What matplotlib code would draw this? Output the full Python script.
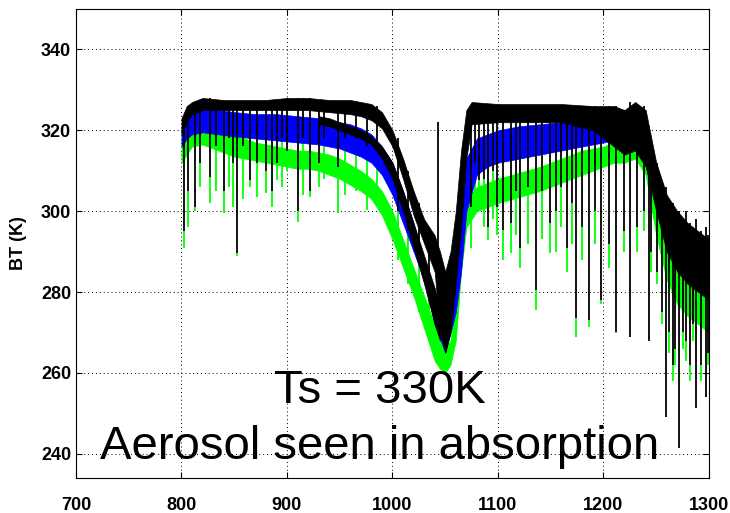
import numpy as np
import matplotlib
matplotlib.use('Agg')
import matplotlib.pyplot as plt

plt.rcParams['font.family'] = ['Liberation Sans', 'DejaVu Sans']

# band envelopes (wavenumber, top BT, bottom BT)
bk_wn = [800, 805, 810, 820, 840, 860, 880, 900, 920, 940, 960, 970, 980, 990, 1000,
         1010, 1020, 1030, 1040, 1045, 1050, 1055, 1060, 1065, 1070, 1075, 1100, 1130, 1160, 1190,
         1200, 1210, 1220, 1230, 1240, 1250, 1260, 1270, 1280, 1290, 1300]
bk_top = [323, 326, 327, 328, 327.5, 327.5, 327.5, 328, 328, 327.5, 327.5, 327, 326.5, 324.5, 320,
          313, 305, 298, 294, 290, 285, 290, 300, 315, 325, 327, 326.5, 326.5, 326.5, 326,
          326, 326, 325, 327, 325, 312, 304, 300, 297, 295, 293]
bk_bot = [319, 322, 324, 325, 325, 325, 325, 325, 325, 324.5, 324, 323.5, 322.5, 320.5, 316,
          308, 299, 292, 285, 270, 265, 270, 282, 296, 313, 321.5, 322, 322, 322, 320,
          318, 316, 314, 315, 311, 300, 290, 285, 282, 280, 278]

bk2_wn = [930, 940, 950, 960, 970, 980, 990, 1000, 1010, 1020, 1030, 1040, 1045]
bk2_top = [323.5, 323, 322, 321, 320, 318.5, 316, 312, 305, 297, 289, 281, 276]
bk2_bot = [321.5, 321, 320, 319, 318, 316.5, 313, 308, 300, 291, 282, 272, 268]

bl_wn = [800, 805, 810, 820, 850, 870, 890, 910, 930, 950, 960, 970, 980, 990, 1000,
         1010, 1020, 1030, 1040, 1050, 1060, 1065, 1070, 1080, 1090, 1100, 1120, 1140, 1160, 1180,
         1200, 1220, 1240]
bl_top = [321, 323, 325, 325.5, 324.5, 324, 324, 323.5, 323, 322, 321.5, 320.5, 319, 316, 312,
          305, 297, 288, 280, 273, 285, 300, 313, 318, 319, 320, 321, 321.5, 322, 322.5,
          323, 323, 322]
bl_bot = [316, 318, 319, 319.5, 318.5, 318, 317.5, 317, 316.5, 315.5, 314.5, 313.5, 312, 309, 304,
          297, 290, 283, 272, 265, 275, 285, 300, 309, 311, 312, 313, 314, 315, 316,
          317, 318, 317]

gr_wn = [800, 805, 810, 820, 830, 840, 850, 860, 870, 880, 890, 900, 910, 920, 930,
         940, 950, 960, 970, 980, 990, 1000, 1010, 1020, 1030, 1040, 1045, 1050, 1055, 1060,
         1065, 1070, 1080, 1090, 1100, 1120, 1140, 1160, 1180, 1200, 1210, 1220, 1230, 1240, 1250,
         1260, 1270, 1280, 1290, 1300]
gr_top = [318, 320, 321.5, 321.5, 320.5, 319.5, 318.5, 318, 317, 316.5, 316, 315.5, 315, 315, 314.5,
          314, 313, 311.5, 310, 308, 305, 300, 293, 286, 279, 272, 268, 266, 268, 280,
          295, 303, 306, 307, 308, 309.5, 311, 313, 315, 316, 317, 317, 317, 314, 302,
          291, 285, 282, 280, 278]
gr_bot = [312, 314, 316, 316.5, 315.5, 314.5, 313.5, 313, 312.5, 312, 311.5, 311, 310.5, 310.5, 310,
          309, 308, 306.5, 305, 303, 299, 293, 286, 279, 271, 263, 261, 260, 262, 268,
          285, 296, 300, 301, 302, 303.5, 305, 307, 309, 311, 312, 312, 313, 309, 294,
          283, 277, 274, 272, 270]

# absorption lines: position, top of the line, lowest black, lowest green
dips_wn = [802.5, 806, 813, 818, 827, 833, 840, 845, 849, 853, 858, 865, 872, 880, 886,
           891, 895, 900, 910, 915, 922, 930, 935, 948, 955, 965, 976, 985, 1005, 1015,
           1025, 1035, 1074, 1078, 1082, 1087, 1091, 1095, 1099.5, 1105, 1112, 1117, 1121, 1128, 1136,
           1142, 1149, 1155, 1160, 1165, 1170, 1174, 1180, 1186, 1192, 1197.5, 1205, 1212, 1219, 1225,
           1232, 1238, 1243, 1245, 1251, 1255, 1259, 1262, 1266, 1268, 1271.5, 1275, 1278, 1282, 1285,
           1288, 1292, 1297, 1299]
dips_top = [322, 326, 327, 327, 328, 327, 327, 327, 327, 327, 327, 327, 327, 327, 327,
            327, 327, 328, 328, 328, 328, 327, 327, 327, 327, 327, 326, 326, 318, 310,
            302, 296, 326, 326, 326, 326, 326, 326, 326, 326, 326, 326, 326, 326, 326,
            326, 326, 326, 326, 326, 326, 326, 326, 326, 326, 325, 326, 326, 325, 327,
            326, 326, 318, 314, 312, 306, 306, 302, 302, 300, 300, 298, 300, 297, 296,
            298, 295, 296, 294]
dips_black = [295, 305, 301, 312, 308.5, 316, 305, 318, 312, 289.6, 316, 307.7, 312, 310, 305,
              312, 318, 315, 300, 318, 305, 312, 318, 311, 318, 318, 316, 316, 300, 295,
              288, 282, 301, 312, 307.7, 308, 296, 310, 301, 295.3, 297, 305, 291, 306, 280.4,
              305, 297, 300, 306, 291, 302, 273.7, 296, 273, 300, 278, 292, 270, 295, 269,
              296, 300, 268, 290, 285, 275, 249, 270, 262, 266, 241.5, 270, 268, 262, 272,
              251.4, 262, 254, 265]
dips_green = [291, 296, 300, 306, 302, 305, 299.6, 306, 301, 289, 303, 306, 303.5, 304.5, 301,
              307.7, 306, 310, 297.3, 304, 303.5, 306, 308, 299.6, 304, 305, 300.3, 302, 288, 282,
              275, 268, 291, 300, 300, 296, 292.9, 298, 294, 287.9, 289.6, 294, 286, 292, 275.5,
              293, 289.6, 290, 296, 285, 292, 268.8, 288, 271.3, 292, 277, 286, 269.8, 290, 268.8,
              290, 295, 268, 285, 282, 272, 249, 265, 258, 262, 241.5, 266, 263, 258, 268,
              251.4, 258, 254, 262]

spike_wn = [1043]
spike_top = [322]
spike_bot = [290]

fig = plt.figure(figsize=(7.3, 5.13), dpi=100)
ax = fig.add_axes([0.1041, 0.0682, 0.8671, 0.9142])

ax.fill_between(gr_wn, gr_bot, gr_top, color='#00ff00', lw=0.5, zorder=2)
ax.vlines(dips_wn, dips_green, dips_black, color='#00ff00', lw=1.3, zorder=2)
ax.fill_between(bl_wn, bl_bot, bl_top, color='#0000ff', lw=0.5, zorder=3)
ax.fill_between(bk_wn, bk_bot, bk_top, color='k', lw=0.5, zorder=4)
ax.fill_between(bk2_wn, bk2_bot, bk2_top, color='k', lw=0.5, zorder=4)
ax.vlines(dips_wn, dips_black, dips_top, color='k', lw=1.3, zorder=4)
ax.vlines(spike_wn, spike_bot, spike_top, color='k', lw=1.3, zorder=4)

ax.set_xlim(700, 1300)
ax.set_ylim(234, 350)
ax.set_xticks(np.arange(700, 1301, 100))
ax.set_yticks(np.arange(240, 341, 20))
ax.grid(True, color='k', lw=0.7, linestyle=(0, (1, 3)))
ax.set_axisbelow(True)
ax.tick_params(direction='in', length=4, top=True, right=True, labelsize=13)
ax.tick_params(axis='x', pad=14)
for lab in ax.get_xticklabels() + ax.get_yticklabels():
    lab.set_fontweight('bold')
ax.set_ylabel('BT (K)', fontsize=13, fontweight='bold', labelpad=10)

ax.text(988, 252.5, 'Ts = 330K', fontsize=34, ha='center', va='baseline', zorder=6)
ax.text(988, 238.8, 'Aerosol seen in absorption', fontsize=34, ha='center', va='baseline', zorder=6)

fig.savefig('out.png', dpi=100)
